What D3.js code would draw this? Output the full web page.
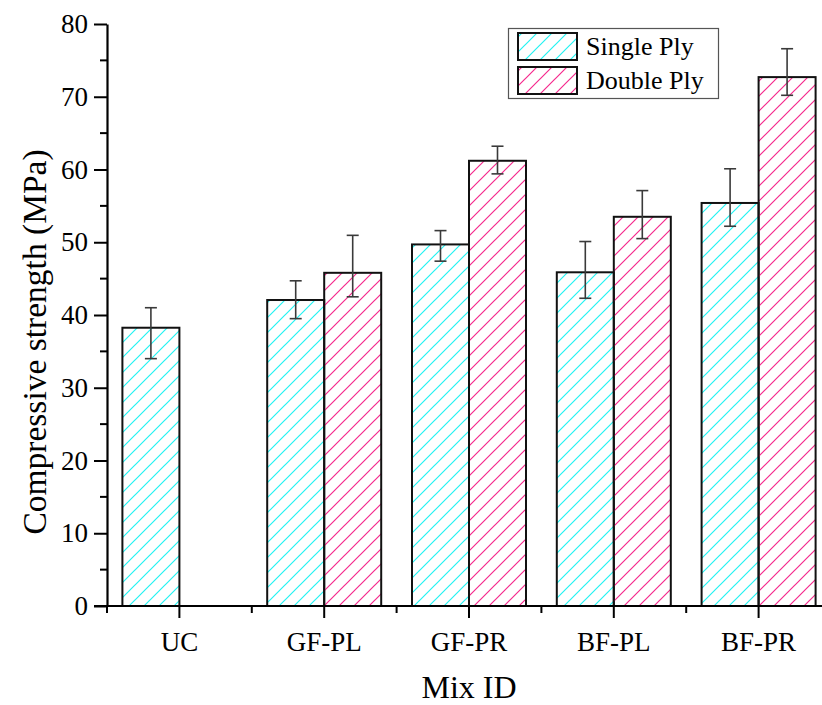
<!DOCTYPE html>
<html>
<head>
<meta charset="utf-8">
<script src="https://cdn.jsdelivr.net/npm/d3@7"></script>
<style>
  body { margin: 0; background: #fff; }
  svg { display: block; font-family: "Liberation Serif", "Times New Roman", serif; }
  .tick-label { font-size: 27px; fill: #000; }
</style>
</head>
<body>
<svg id="chart" width="822" height="705"></svg>
<script>
// data
var mixIds      = ["UC", "GF-PL", "GF-PR", "BF-PL", "BF-PR"];
var singlePly   = [38.25, 42.06, 49.7, 45.87, 55.4];
var singleHigh  = [41.0, 44.7, 51.6, 50.1, 60.1];
var singleLow   = [34.0, 39.5, 47.4, 42.3, 52.2];
var doublePly   = [null, 45.8, 61.2, 53.5, 72.7];
var doubleHigh  = [null, 50.95, 63.2, 57.1, 76.6];
var doubleLow   = [null, 42.5, 59.4, 50.5, 70.2];
var yTicks      = [0, 10, 20, 30, 40, 50, 60, 70, 80];
var seriesNames = ["Single Ply", "Double Ply"];

var svg = d3.select("#chart");
var m = { left: 107, right: 831, top: 24, bottom: 606 };

var x = d3.scaleBand().domain(mixIds).range([m.left, m.right]).padding(0);
var y = d3.scaleLinear().domain([0, 80]).range([m.bottom, m.top]);
var barW = 57;

var colors = { single: "#22f2f2", double: "#f5288c" };

// hatch patterns
var defs = svg.append("defs");
function hatch(id, color) {
  var p = defs.append("pattern")
      .attr("id", id)
      .attr("patternUnits", "userSpaceOnUse")
      .attr("width", 15).attr("height", 15);
  p.append("path")
      .attr("d", "M0,15 L15,0 M-4,4 L4,-4 M11,19 L19,11")
      .attr("stroke", color)
      .attr("stroke-width", 1.2)
      .attr("fill", "none");
}
hatch("hatchSingle", colors.single);
hatch("hatchDouble", colors.double);

var g = svg.append("g");

// rows for bars
var rows = [];
mixIds.forEach(function(id, i) {
  rows.push({ id: id, kind: "single", v: singlePly[i], hi: singleHigh[i], lo: singleLow[i] });
  if (doublePly[i] != null)
    rows.push({ id: id, kind: "double", v: doublePly[i], hi: doubleHigh[i], lo: doubleLow[i] });
});
function barX(d) {
  var c = x(d.id) + x.bandwidth() / 2;
  return d.kind === "single" ? c - barW : c;
}

g.selectAll("rect.bar")
  .data(rows)
  .enter().append("rect")
    .attr("class", "bar")
    .attr("x", barX)
    .attr("y", function(d) { return y(d.v); })
    .attr("width", barW)
    .attr("height", function(d) { return y(0) - y(d.v); })
    .attr("fill", function(d) { return d.kind === "single" ? "url(#hatchSingle)" : "url(#hatchDouble)"; })
    .attr("stroke", "#111")
    .attr("stroke-width", 2);

// error bars
var eb = g.selectAll("g.err")
  .data(rows)
  .enter().append("g")
    .attr("class", "err")
    .attr("stroke", "#3a3a3a")
    .attr("stroke-width", 1.6);
eb.append("line")
    .attr("x1", function(d) { return barX(d) + barW / 2; })
    .attr("x2", function(d) { return barX(d) + barW / 2; })
    .attr("y1", function(d) { return y(d.hi); })
    .attr("y2", function(d) { return y(d.lo); });
eb.selectAll("line.cap")
  .data(function(d) { return [d.hi, d.lo].map(function(v) { return { c: barX(d) + barW / 2, v: v }; }); })
  .enter().append("line")
    .attr("class", "cap")
    .attr("x1", function(d) { return d.c - 6; })
    .attr("x2", function(d) { return d.c + 6; })
    .attr("y1", function(d) { return y(d.v); })
    .attr("y2", function(d) { return y(d.v); });

// y axis
var yAxis = g.append("g")
    .attr("transform", "translate(" + m.left + ",0)")
    .call(d3.axisLeft(y).tickValues(yTicks).tickSize(13).tickPadding(6).tickSizeOuter(0));
yAxis.attr("font-family", null).attr("font-size", null);
yAxis.select(".domain").attr("stroke-width", 2.2);
yAxis.selectAll(".tick line").attr("stroke-width", 2);
yAxis.selectAll(".tick text").attr("class", "tick-label");
// minor y ticks
g.append("g").selectAll("line")
  .data(yTicks.slice(0, -1).map(function(t) { return t + 5; }))
  .enter().append("line")
    .attr("x1", m.left - 7).attr("x2", m.left)
    .attr("y1", function(d) { return y(d); })
    .attr("y2", function(d) { return y(d); })
    .attr("stroke", "#000").attr("stroke-width", 2);

// x axis
var xAxis = g.append("g")
    .attr("transform", "translate(0," + m.bottom + ")")
    .call(d3.axisBottom(x).tickSize(12).tickPadding(14).tickSizeOuter(0));
xAxis.attr("font-family", null).attr("font-size", null);
xAxis.select(".domain").attr("stroke-width", 2.2).attr("d", "M" + (m.left - 13) + ",0H" + m.right);
xAxis.selectAll(".tick line").attr("stroke-width", 2);
xAxis.selectAll(".tick text").attr("class", "tick-label").attr("dy", "0.71em");
// minor x ticks at band edges
g.append("g").selectAll("line")
  .data(mixIds)
  .enter().append("line")
    .attr("x1", function(d) { return x(d); })
    .attr("x2", function(d) { return x(d); })
    .attr("y1", m.bottom).attr("y2", m.bottom + 7)
    .attr("stroke", "#000").attr("stroke-width", 2);

// axis titles
svg.append("text")
    .attr("x", (m.left + m.right) / 2)
    .attr("y", 698)
    .attr("text-anchor", "middle")
    .style("font-size", "32px")
    .text("Mix ID");
svg.append("text")
    .attr("transform", "translate(46,342) rotate(-90)")
    .attr("text-anchor", "middle")
    .style("font-size", "33.5px")
    .text("Compressive strength (MPa)");

// legend
var lg = svg.append("g");
lg.append("rect")
    .attr("x", 508.5).attr("y", 28.5)
    .attr("width", 210).attr("height", 70)
    .attr("fill", "#fff").attr("stroke", "#555").attr("stroke-width", 1.2);
var items = lg.selectAll("g.item")
  .data(seriesNames)
  .enter().append("g")
    .attr("class", "item")
    .attr("transform", function(d, i) { return "translate(0," + (i * 34) + ")"; });
items.append("rect")
    .attr("x", 518).attr("y", 33)
    .attr("width", 59).attr("height", 27)
    .attr("fill", function(d, i) { return i === 0 ? "url(#hatchSingle)" : "url(#hatchDouble)"; })
    .attr("stroke", "#111").attr("stroke-width", 2);
items.append("text")
    .attr("x", 586).attr("y", 55)
    .style("font-size", "26px")
    .text(function(d) { return d; });
</script>
</body>
</html>
